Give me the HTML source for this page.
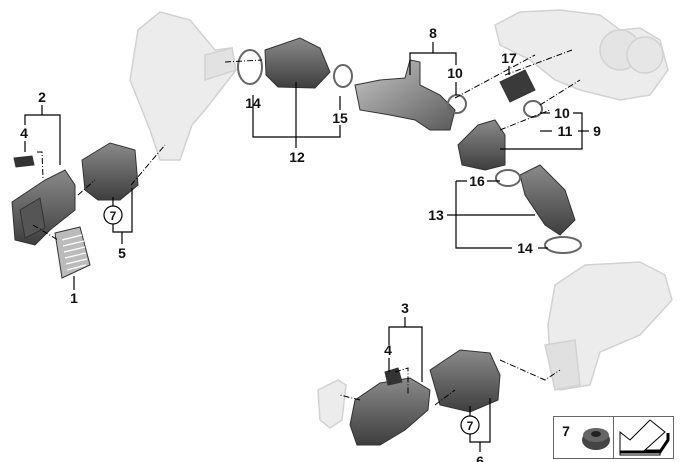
<!DOCTYPE html>
<html><head><style>
body{margin:0;background:#fff}
svg{display:block}
text{font-family:"Liberation Sans",sans-serif;font-weight:bold;font-size:14px;fill:#111;text-anchor:middle}
</style></head><body>
<svg width="680" height="462" viewBox="0 0 680 462">
<defs>
<linearGradient id="dk" x1="0" y1="0" x2="0" y2="1"><stop offset="0" stop-color="#8a8a8a"/><stop offset="1" stop-color="#3e3e3e"/></linearGradient>
<linearGradient id="md" x1="0" y1="0" x2="1" y2="1"><stop offset="0" stop-color="#c8c8c8"/><stop offset="1" stop-color="#5a5a5a"/></linearGradient>
</defs>
<g fill="#ececec" stroke="#d2d2d2" stroke-width="1.5">
<path d="M138,30 L160,12 L190,20 L215,50 L232,48 L236,70 L205,110 L192,125 L180,160 L160,160 L150,130 L130,80 Z"/>
<path d="M205,55 L232,48 L236,70 L205,80 Z" fill="#e2e2e2"/>
<path d="M495,25 L520,12 L560,10 L600,15 L620,30 L640,28 L660,40 L668,70 L650,95 L620,100 L580,90 L555,80 L530,60 L500,45 Z"/>
<circle cx="620" cy="50" r="20" fill="#e4e4e4"/><circle cx="645" cy="55" r="18" fill="#e6e6e6"/>
<path d="M555,285 L585,265 L640,262 L665,275 L672,300 L640,335 L600,352 L590,385 L560,390 L550,355 L548,325 Z"/>
<path d="M545,345 L575,340 L580,385 L555,390 Z" fill="#e0e0e0"/>
<path d="M318,390 L338,380 L346,385 L342,420 L330,428 L320,420 Z"/>
</g>
<g stroke="#333" stroke-width="1">
<path d="M12,202 L45,180 L65,170 L75,185 L75,210 L50,230 L35,245 L15,240 Z" fill="url(#dk)"/>
<path d="M20,210 L40,198 L45,228 L25,238 Z" fill="#555"/>
<path d="M55,233 L80,227 L90,265 L62,278 Z" fill="#bbb"/>
<g stroke="#fff" stroke-width="1.2"><path d="M62,240 L82,235 M63,246 L84,241 M64,252 L85,247 M65,258 L86,253 M66,264 L87,259 M67,270 L86,265"/></g>
<path d="M14,158 L32,156 L34,165 L16,167 Z" fill="#333"/>
<path d="M82,160 L110,143 L135,150 L138,185 L120,200 L98,200 L85,190 Z" fill="url(#dk)"/>
<path d="M265,50 L300,38 L320,48 L330,72 L315,88 L278,87 L266,75 Z" fill="url(#dk)"/>
<path d="M355,85 L380,80 L405,78 L410,60 L420,62 L420,85 L440,95 L455,110 L450,130 L430,130 L415,120 L390,115 L360,110 Z" fill="url(#md)"/>
<path d="M500,82 L525,70 L535,90 L510,102 Z" fill="#3a3a3a"/>
<path d="M458,145 L478,125 L495,120 L505,135 L505,165 L485,170 L462,165 Z" fill="url(#dk)"/>
<path d="M520,175 L540,165 L565,190 L575,220 L560,235 L545,225 L525,195 Z" fill="url(#dk)"/>
<path d="M355,400 L380,383 L410,378 L430,390 L428,410 L405,430 L380,445 L357,445 L350,425 Z" fill="url(#dk)"/>
<path d="M430,370 L460,350 L490,353 L500,375 L498,400 L470,412 L440,405 Z" fill="url(#dk)"/>
<path d="M385,372 L398,368 L402,382 L388,385 Z" fill="#333"/>
</g>
<g fill="none" stroke="#666" stroke-width="2"><ellipse cx="250" cy="67" rx="12" ry="17"/><ellipse cx="343" cy="76" rx="9" ry="11"/><ellipse cx="457" cy="104" rx="9" ry="9"/><ellipse cx="533" cy="109" rx="9" ry="8"/><ellipse cx="508" cy="178" rx="12" ry="8"/><ellipse cx="563" cy="245" rx="18" ry="8"/></g>
<g stroke="#000" stroke-width="1" stroke-dasharray="6,2,1,2" fill="none">
<path d="M131,185 L165,145"/><path d="M78,195 L95,180"/><path d="M33,225 L58,240"/>
<path d="M225,62 L262,60"/><path d="M455,98 L535,55"/><path d="M505,75 L572,50"/>
<path d="M500,130 L550,110"/><path d="M540,105 L580,80"/><path d="M360,400 L340,395"/>
<path d="M435,405 L455,390"/><path d="M500,360 L545,380 L560,370"/><path d="M37,152 L42,152 L43,178"/><path d="M395,372 L408,368 L408,395"/>
</g>
<g stroke="#000" stroke-width="1.2" fill="none">
<path d="M25,125 L25,115 L60,115 L60,165"/><path d="M42,115 L42,105"/><path d="M25,141 L25,152"/>
<path d="M74,276 L74,290"/>
<path d="M113,197 L113,206"/><path d="M113,224 L113,232 L132,232 L132,188"/><path d="M122,232 L122,244"/>
<path d="M253,95 L253,137 L340,137 L340,125"/><path d="M296,137 L296,82"/><path d="M296,137 L296,148"/><path d="M340,110 L340,96"/>
<path d="M410,75 L410,53 L456,53 L456,65"/><path d="M433,53 L433,42"/><path d="M456,82 L456,95"/>
<path d="M509,66 L509,75"/>
<path d="M540,113 L550,113"/><path d="M540,131 L552,131"/><path d="M573,113 L582,113 L582,149 L500,149"/><path d="M578,131 L589,131"/>
<path d="M456,181 L467,181 M487,181 L500,181"/><path d="M456,181 L456,248 L512,248"/><path d="M447,215 L535,215"/><path d="M538,248 L548,248"/>
<path d="M389,345 L389,327 L422,327 L422,382"/><path d="M405,317 L405,327"/><path d="M389,358 L389,372"/>
<path d="M470,406 L470,416"/><path d="M470,434 L470,442 L490,442 L490,398"/><path d="M480,442 L480,452"/>
</g>
<circle cx="113" cy="215" r="9" fill="#fff" stroke="#000" stroke-width="1.2"/>
<circle cx="470" cy="425" r="9" fill="#fff" stroke="#000" stroke-width="1.2"/>
<text x="42" y="102">2</text><text x="24" y="138">4</text><text x="74" y="303">1</text>
<text x="113" y="220" style="font-size:12px">7</text><text x="122" y="258">5</text>
<text x="253" y="108">14</text><text x="297" y="162">12</text><text x="340" y="123">15</text>
<text x="433" y="38">8</text><text x="455" y="78">10</text><text x="509" y="63">17</text>
<text x="562" y="118">10</text><text x="565" y="136">11</text><text x="597" y="136">9</text>
<text x="477" y="186">16</text><text x="436" y="220">13</text><text x="525" y="253">14</text>
<text x="405" y="313">3</text><text x="388" y="355">4</text>
<text x="470" y="430" style="font-size:12px">7</text><text x="480" y="466">6</text>
<rect x="553.5" y="416.5" width="120" height="42" fill="#fff" stroke="#666"/>
<line x1="613.5" y1="417" x2="613.5" y2="458" stroke="#666"/>
<text x="566" y="436">7</text>
<ellipse cx="596" cy="440" rx="14" ry="10" fill="#444"/><ellipse cx="596" cy="435" rx="13" ry="7" fill="#666"/><ellipse cx="596" cy="434" rx="5" ry="3" fill="#222"/>
<path d="M620,445 L620,432 L630,440 L650,420 L665,432 L645,450 L660,450 L660,455 L620,455 Z" fill="#fff" stroke="#000"/>
<path d="M620,452 L660,452 L668,440 L668,433" fill="none" stroke="#000" stroke-width="3"/>
</svg>
</body></html>
